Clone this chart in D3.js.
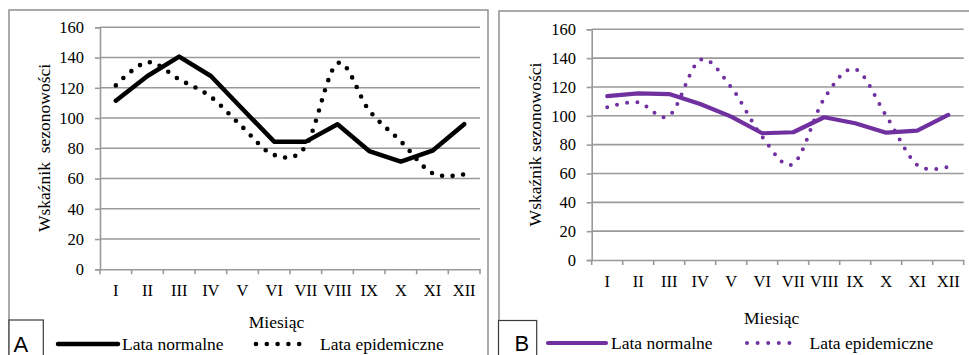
<!DOCTYPE html>
<html>
<head>
<meta charset="utf-8">
<script src="https://cdn.jsdelivr.net/npm/d3@7"></script>
<style>
  html, body { margin: 0; padding: 0; background: #fff; }
  svg { display: block; }
  svg text { font-family: "Liberation Serif", "Times New Roman", Tinos, "DejaVu Serif", serif; fill: #000; }
</style>
</head>
<body>
<svg id="chart" width="969" height="355"></svg>
<script>
// ---- data ----
const months = ["I","II","III","IV","V","VI","VII","VIII","IX","X","XI","XII"];
const yTicks = [0,20,40,60,80,100,120,140,160];
const seriesNames = ["Lata normalne","Lata epidemiczne"];
const panelLabels = ["A","B"];
const yTitles = ["Wskaźnik  sezonowości","Wskaźnik sezonowości"];
const xTitle = "Miesiąc";
const normalA   = [111.5,127.8,140.6,127.8,106.0,84.4,84.4,95.9,78.2,71.2,78.4,95.9];
const epidemicA = [121.6,136.9,125.6,114.0,94.0,75.6,81.5,136.2,105.0,84.6,63.5,62.8];
const normalB   = [113.7,115.6,115.1,108.2,99.4,87.9,88.6,99.0,94.8,88.3,89.7,100.6];
const epidemicB = [105.9,109.3,100.1,138.7,119.8,85.5,66.6,112.0,132.3,100.0,65.9,64.7];

// ---- layout ----
const SERIF = "'Liberation Serif', 'Times New Roman', Tinos, 'DejaVu Serif', serif";
const SANS = "'Liberation Sans', Arial, Arimo, sans-serif";
const svg = d3.select("#chart");
const gridColor = "#9a9a9a";

const panels = [
  { label: panelLabels[0], normal: normalA, epidemic: epidemicA, color: "#000000",
    border: {x: 9, y: 10, w: 479},
    x0: 100, x1: 480, yTop: 27.3, yBot: 269.3,
    yLabelX: 84, xLabelY: 296, yTitleX: 50, yTitleY: 148, yTitle: yTitles[0],
    xTitleX: 276.5, xTitleY: 327.5,
    box: {x: 9, y: 320, w: 34.3}, letterX: 13.5, letterY: 351.5,
    leg: {lx0: 58, lx1: 118, ly: 344, t1: 122, dx0: 256, dx1: 310, t2: 320, ty: 350},
    lineW: 4.5, dotW: 4.6, dotGap: 10.5 },
  { label: panelLabels[1], normal: normalB, epidemic: epidemicB, color: "#7030a0",
    border: {x: 499, y: 11, w: 500},
    x0: 591.7, x1: 963.7, yTop: 29.3, yBot: 260,
    yLabelX: 576, xLabelY: 287, yTitleX: 540.5, yTitleY: 144.5, yTitle: yTitles[1],
    xTitleX: 771.7, xTitleY: 324,
    box: {x: 498.5, y: 320.5, w: 38.2}, letterX: 514.5, letterY: 351,
    leg: {lx0: 548, lx1: 606, ly: 343, t1: 611, dx0: 747, dx1: 800, t2: 809.5, ty: 349},
    lineW: 4.2, dotW: 4.0, dotGap: 10.2 }
];

panels.forEach(p => {
  const g = svg.append("g");

  g.append("path")
    .attr("d", `M${p.border.x},${p.border.y + 400}V${p.border.y}H${p.border.x + p.border.w}` +
               (p.label === "A" ? `V${p.border.y + 400}` : ""))
    .attr("fill", "none").attr("stroke", "#8f8f8f").attr("stroke-width", 1.5);

  const x = d3.scaleBand().domain(months).range([p.x0, p.x1]);
  const y = d3.scaleLinear().domain([0, 160]).range([p.yBot, p.yTop]);

  g.append("g").selectAll("line").data(yTicks.filter(d => d > 0)).join("line")
    .attr("x1", p.x0).attr("x2", p.x1)
    .attr("y1", d => y(d)).attr("y2", d => y(d))
    .attr("stroke", gridColor).attr("stroke-width", 1.6);

  const yAxis = g.append("g").attr("transform", `translate(${p.x0},0)`)
    .call(d3.axisLeft(y).tickValues(yTicks).tickSize(5).tickPadding(11).tickFormat(d3.format("d")))
    .attr("font-family", SERIF).attr("font-size", 16.5);
  yAxis.select(".domain").attr("stroke", gridColor).attr("stroke-width", 1.6);
  yAxis.selectAll(".tick line").attr("stroke", gridColor).attr("stroke-width", 1.6);
  yAxis.selectAll(".tick text")
    .attr("x", p.yLabelX - p.x0)
    .attr("font-family", SERIF).style("font-family", SERIF)
    .style("font-size", "16.5px").attr("fill", "#000");

  const xAxis = g.append("g").attr("transform", `translate(0,${p.yBot})`)
    .call(d3.axisBottom(x).tickSize(0).tickPadding(0))
    .attr("font-family", SERIF).attr("font-size", 16.5);
  xAxis.select(".domain").attr("stroke", gridColor).attr("stroke-width", 1.6);
  xAxis.selectAll(".tick text")
    .attr("y", p.xLabelY - p.yBot).attr("dy", 0)
    .attr("font-family", SERIF).style("font-family", SERIF)
    .style("font-size", "16.5px").attr("fill", "#000");
  const bounds = months.map(m => x(m)).concat([p.x1]);
  g.append("g").selectAll("line").data(bounds).join("line")
    .attr("x1", d => d).attr("x2", d => d)
    .attr("y1", p.yBot).attr("y2", p.yBot + 5)
    .attr("stroke", gridColor).attr("stroke-width", 1.6);

  g.append("text")
    .attr("transform", `translate(${p.yTitleX},${p.yTitleY}) rotate(-90)`)
    .attr("text-anchor", "middle")
    .attr("xml:space", "preserve").style("white-space", "pre")
    .style("font-family", SERIF).style("font-size", "17.5px")
    .text(p.yTitle);
  g.append("text")
    .attr("x", p.xTitleX).attr("y", p.xTitleY)
    .attr("text-anchor", "middle")
    .style("font-family", SERIF).style("font-size", "17.5px")
    .text(xTitle);

  const cx = (d, i) => x(months[i]) + x.bandwidth() / 2;
  const lineStraight = d3.line().x(cx).y(d => y(d)).curve(d3.curveLinear);
  const lineSmooth = d3.line().x(cx).y(d => y(d)).curve(d3.curveCardinal.tension(0));

  g.append("path").datum(p.epidemic)
    .attr("d", lineSmooth)
    .attr("fill", "none").attr("stroke", p.color)
    .attr("stroke-width", p.dotW).attr("stroke-linecap", "round")
    .attr("stroke-dasharray", `0 ${p.dotGap}`);

  g.append("path").datum(p.normal)
    .attr("d", lineStraight)
    .attr("fill", "none").attr("stroke", p.color)
    .attr("stroke-width", p.lineW).attr("stroke-linejoin", "round").attr("stroke-linecap", "round");

  g.append("rect")
    .attr("x", p.box.x).attr("y", p.box.y).attr("width", p.box.w).attr("height", 60)
    .attr("fill", "#fff").attr("stroke", "#3a3a3a").attr("stroke-width", 1.2);
  g.append("text")
    .attr("x", p.letterX).attr("y", p.letterY)
    .style("font-family", SANS)
    .style("font-size", "22px")
    .text(p.label);

  const L = p.leg;
  g.append("line")
    .attr("x1", L.lx0).attr("x2", L.lx1).attr("y1", L.ly).attr("y2", L.ly)
    .attr("stroke", p.color).attr("stroke-width", p.lineW).attr("stroke-linecap", "round");
  g.append("text").attr("x", L.t1).attr("y", L.ty)
    .style("font-family", SERIF).style("font-size", "17.5px").text(seriesNames[0]);
  g.append("line")
    .attr("x1", L.dx0).attr("x2", L.dx1).attr("y1", L.ly).attr("y2", L.ly)
    .attr("stroke", p.color).attr("stroke-width", p.dotW).attr("stroke-linecap", "round")
    .attr("stroke-dasharray", `0 ${(L.dx1 - L.dx0) / 5}`);
  g.append("text").attr("x", L.t2).attr("y", L.ty)
    .style("font-family", SERIF).style("font-size", "17.5px").text(seriesNames[1]);
});
</script>
</body>
</html>
